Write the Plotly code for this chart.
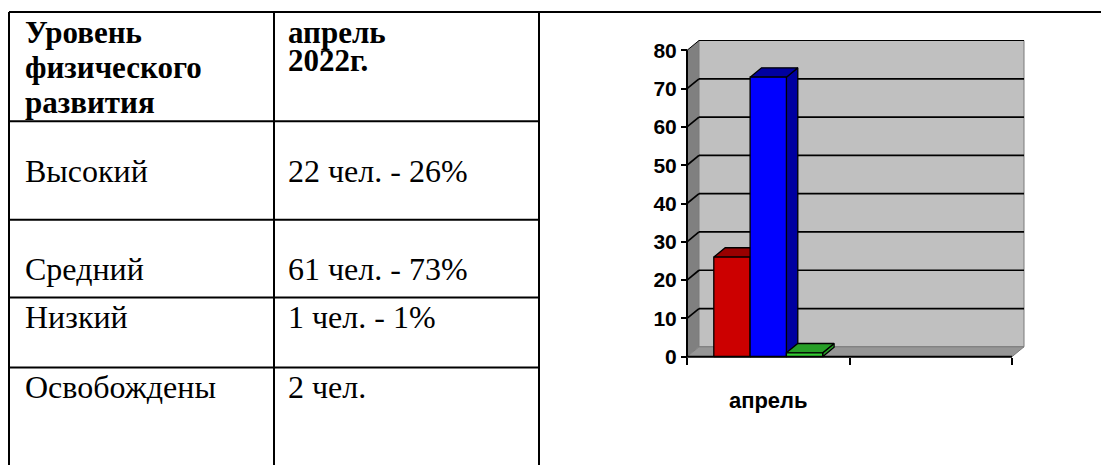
import plotly.graph_objects as go

# ---------------- data ----------------
levels = ["Высокий", "Средний", "Низкий", "Освобождены"]
counts = [22, 61, 1, 2]
percents = [26, 73, 1, None]
header_col1 = ["Уровень", "физического", "развития"]
header_col2 = ["апрель", "2022г."]

categories = ["апрель", ""]
series_names = ["Высокий", "Средний", "Низкий"]
series_values = [26, 73, 1]
y_ticks = [0, 10, 20, 30, 40, 50, 60, 70, 80]

# ---------------- styles / layout constants ----------------
front_colors = ["#CC0000", "#0000FF", "#33CC33"]
shade_colors = ["#990000", "#0000A0", "#279F27"]
WALL = "#C0C0C0"
SIDE = "#808080"
FLOOR = "#969696"

TABLE_FONT = "Liberation Serif"
TABLE_SIZE = 32
HEADER_SIZE = 31
CHART_FONT = "Liberation Sans"
CHART_SIZE = 21
CAT_SIZE = 22

# page offset (default body margin of the html page)
W, H = 1109, 465
OFF = 8

# table geometry (page pixels)
T_LEFT, T_MID, T_RIGHT, T_TOP = 9, 274, 539, 12
ROW_LINES = [123, 223, 302, 373]
COL1_TX, COL2_TX = 23, 286
HDR1_Y = [33, 68, 104]
HDR2_Y = [33, 61]
ROW_Y = [173, 273, 322, 393]

# chart geometry (page pixels)
X_LEFT_PX, X_RIGHT_PX = 687, 1012
Y0_PX, YMAX_PX = 362, 51
DEPTH_X_PX, DEPTH_Y_PX = 12, 10
PAD = 4
BAR_W = 0.2234      # bar width in category units
BAR_DEPTH = 0.95    # fraction of wall depth

ymax = y_ticks[-1]
ncat = len(categories)
cat_px = (X_RIGHT_PX - X_LEFT_PX) / ncat
unit_py = (Y0_PX - YMAX_PX) / ymax
dxu = DEPTH_X_PX / cat_px
dyu = DEPTH_Y_PX / unit_py
padx = PAD / cat_px
pady = PAD / unit_py
x_lo, x_hi = -0.5, ncat - 0.5


def px(x):
    return (x - OFF) / W


def py(y):
    return 1 - (y - OFF) / H


fig = go.Figure()
shapes = []
annotations = []

# ---------------- table ----------------
LW = 2
shapes.append(dict(type="line", xref="paper", yref="paper", x0=px(T_LEFT), x1=px(W + OFF),
                   y0=py(T_TOP), y1=py(T_TOP), line=dict(color="black", width=LW)))
for xv in (T_LEFT, T_MID, T_RIGHT):
    shapes.append(dict(type="line", xref="paper", yref="paper", x0=px(xv), x1=px(xv),
                       y0=py(T_TOP), y1=py(H + OFF), line=dict(color="black", width=LW)))
for yv in ROW_LINES:
    shapes.append(dict(type="line", xref="paper", yref="paper", x0=px(T_LEFT), x1=px(T_RIGHT),
                       y0=py(yv), y1=py(yv), line=dict(color="black", width=LW)))


def tann(text, x, y, bold=False):
    annotations.append(dict(
        text=text, xref="paper", yref="paper", x=px(x), y=py(y),
        xanchor="left", yanchor="middle", showarrow=False,
        font=dict(family=TABLE_FONT, size=HEADER_SIZE if bold else TABLE_SIZE, color="black",
                  weight="bold" if bold else "normal")))


for t, yy in zip(header_col1, HDR1_Y):
    tann(t, COL1_TX, yy, bold=True)
for t, yy in zip(header_col2, HDR2_Y):
    tann(t, COL2_TX, yy, bold=True)
for lvl, n, p, yy in zip(levels, counts, percents, ROW_Y):
    tann(lvl, COL1_TX, yy)
    val = f"{n} чел." + (f" - {p}%" if p is not None else "")
    tann(val, COL2_TX, yy)

# ---------------- chart walls ----------------
wall_shapes = []
wall_shapes.append(dict(type="path", xref="x", yref="y",
                        path=f"M {x_lo},0 L {x_lo},{ymax} L {x_lo+dxu},{ymax+dyu} L {x_lo+dxu},{dyu} Z",
                        fillcolor=SIDE, line=dict(width=0), layer="below"))
wall_shapes.append(dict(type="rect", xref="x", yref="y",
                        x0=x_lo + dxu, x1=x_hi + dxu, y0=dyu, y1=ymax + dyu,
                        fillcolor=WALL, line=dict(color="#7A7A7A", width=1), layer="below"))
wall_shapes.append(dict(type="path", xref="x", yref="y",
                        path=f"M {x_lo},0 L {x_hi},0 L {x_hi+dxu},{dyu} L {x_lo+dxu},{dyu} Z",
                        fillcolor=FLOOR, line=dict(color="#7A7A7A", width=1), layer="below"))
for v in y_ticks[1:]:
    w = 1.7 if v < ymax else 1
    wall_shapes.append(dict(type="line", xref="x", yref="y",
                            x0=x_lo + dxu, x1=x_hi + dxu, y0=v + dyu, y1=v + dyu,
                            line=dict(color="black", width=w), layer="below"))
    wall_shapes.append(dict(type="line", xref="x", yref="y",
                            x0=x_lo, x1=x_lo + dxu, y0=v, y1=v + dyu,
                            line=dict(color="black", width=w), layer="below"))
shapes = wall_shapes + shapes

# ---------------- bars ----------------
bdx = dxu * BAR_DEPTH
bdy = dyu * BAR_DEPTH
nser = len(series_values)
for i, (name, v) in enumerate(zip(series_names, series_values)):
    c = 0 + (i - (nser - 1) / 2) * BAR_W
    x0, x1 = c - BAR_W / 2, c + BAR_W / 2
    faces = [
        ([x1, x1 + bdx, x1 + bdx, x1, x1], [0, bdy, v + bdy, v, 0], shade_colors[i]),
        ([x0, x1, x1 + bdx, x0 + bdx, x0], [v, v, v + bdy, v + bdy, v], shade_colors[i]),
        ([x0, x1, x1, x0, x0], [0, 0, v, v, 0], front_colors[i]),
    ]
    for fx, fy, col in faces:
        fig.add_trace(go.Scatter(x=fx, y=fy, mode="lines", fill="toself", fillcolor=col,
                                 line=dict(color="black", width=1.3), name=name,
                                 hoverinfo="skip", showlegend=False))

# front axis lines
shapes.append(dict(type="line", xref="x", yref="y", x0=x_lo, x1=x_lo, y0=0, y1=ymax,
                   line=dict(color="black", width=2)))
shapes.append(dict(type="line", xref="x", yref="y", x0=x_lo, x1=x_hi, y0=0, y1=0,
                   line=dict(color="black", width=2)))

dom_x = [px(X_LEFT_PX - PAD), px(X_RIGHT_PX + DEPTH_X_PX + PAD)]
dom_y = [py(Y0_PX + PAD), py(YMAX_PX - DEPTH_Y_PX - PAD)]

fig.update_layout(
    width=W, height=H, margin=dict(l=0, r=0, t=0, b=0),
    paper_bgcolor="white", plot_bgcolor="rgba(0,0,0,0)",
    showlegend=False,
    shapes=shapes, annotations=annotations,
    xaxis=dict(domain=dom_x, range=[x_lo - padx, x_hi + dxu + padx],
               anchor="free", position=py(Y0_PX),
               showgrid=False, zeroline=False, showline=False,
               tickvals=list(range(ncat)), ticktext=categories, ticks="",
               ticklabelstandoff=28,
               tickfont=dict(family=CHART_FONT, size=CAT_SIZE, color="black", weight="bold"),
               minor=dict(tickvals=[k - 0.5 for k in range(ncat + 1)], ticks="outside",
                          ticklen=7, tickwidth=2, tickcolor="black", showgrid=False),
               fixedrange=True),
    yaxis=dict(domain=dom_y, range=[-pady, ymax + dyu + pady],
               anchor="free", position=px(X_LEFT_PX),
               showgrid=False, zeroline=False, showline=False,
               tickvals=y_ticks, ticks="outside", ticklen=6, tickwidth=2, tickcolor="black",
               tickfont=dict(family=CHART_FONT, size=CHART_SIZE, color="black", weight="bold"),
               fixedrange=True),
)

fig.write_html("out.html")
